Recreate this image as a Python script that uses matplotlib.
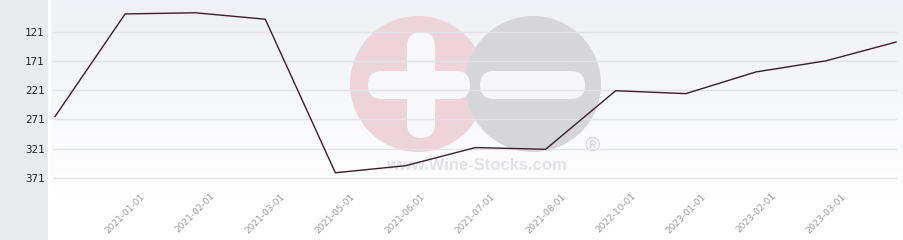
import matplotlib.pyplot as plt
import matplotlib.patches as mpatches
import numpy as np

# rank over time (lower = better, axis inverted)
dates = ['', '2021-01-01', '2021-02-01', '2021-03-01', '2021-05-01', '2021-06-01',
         '2021-07-01', '2021-08-01', '2022-10-01', '2023-01-01', '2023-02-01',
         '2023-03-01', '']
ranks = [266, 91, 89, 100, 362, 350, 319, 322, 222, 227, 190, 171, 139]
yticks = [121, 171, 221, 271, 321, 371]

W, H = 904, 240
fig = plt.figure(figsize=(W / 100, H / 100), dpi=100)

# background layer in pixel coords
bg = fig.add_axes([0, 0, 1, 1], zorder=0)
bg.axis('off')
bg.add_patch(mpatches.Rectangle((0, 0), 48, H, color='#e8ebee', lw=0))
grad = np.linspace(0, 1, 100).reshape(-1, 1)
cm = plt.matplotlib.colors.LinearSegmentedColormap.from_list('g', ['#eef0f5', '#ffffff'])
bg.imshow(grad, extent=(51, W, 200, 0), cmap=cm, aspect='auto', zorder=0)
bg.set_xlim(0, W)
bg.set_ylim(H, 0)

# watermark
bg.add_patch(mpatches.Circle((418, 84), 68, color='#eed4da', lw=0, zorder=1))
bg.add_patch(mpatches.Circle((533, 84), 68, color='#d6d6d9', lw=0, zorder=1))
bg.add_patch(mpatches.FancyBboxPatch((407, 32), 28, 106, boxstyle='round,pad=0,rounding_size=14',
                                     color='#f8f8fa', lw=0, zorder=2))
bg.add_patch(mpatches.FancyBboxPatch((368, 71), 102, 28, boxstyle='round,pad=0,rounding_size=14',
                                     color='#f8f8fa', lw=0, zorder=2))
bg.add_patch(mpatches.FancyBboxPatch((480, 71), 105, 28, boxstyle='round,pad=0,rounding_size=14',
                                     color='#f6f6f8', lw=0, zorder=2))
bg.text(476, 166, 'www.Wine-Stocks.com', fontsize=12, fontweight='bold', color='#e2e2e6',
        family='Liberation Sans', ha='center', va='center', zorder=3)
bg.text(592, 145, '®', fontsize=15, color='#d6d6da', family='Liberation Sans',
        ha='center', va='center', zorder=3)

ax = fig.add_axes([53 / W, 40 / H, 844 / W, 200 / H], zorder=1)
ax.patch.set_alpha(0)
x = np.arange(len(ranks))
ax.plot(x, ranks, color='#3b1d2b', lw=1)
ax.set_xlim(-0.029, len(ranks) - 1 + 0.014)
ax.set_ylim(408.5, 67.2)
ax.set_yticks(yticks)
ax.set_yticklabels([str(v) for v in yticks], family='DejaVu Sans Mono', fontsize=7.8, color='#222222')
ax.set_xticks(x)
ax.set_xticklabels(dates, rotation=45, fontsize=6.5, color='#9a9a9a', ha='center', va='top')
ax.tick_params(axis='both', length=0)
ax.tick_params(axis='y', pad=6)
ax.tick_params(axis='x', pad=-6)
ax.grid(axis='y', color='#e2e2e8', lw=1)
ax.grid(axis='x', visible=False)
for s in ax.spines.values():
    s.set_visible(False)

fig.savefig('out.png', dpi=100)
